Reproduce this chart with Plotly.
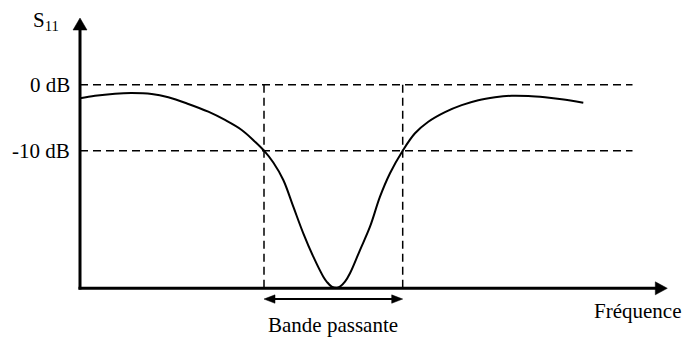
import plotly.graph_objects as go

# ---- data (arbitrary frequency units, S11 in dB) ----
freq = [0.0, 0.15, 0.35, 0.517, 0.717, 0.883, 1.083, 1.283, 1.45, 1.617, 1.75, 1.84,
        1.933, 2.033, 2.133, 2.233, 2.333, 2.433, 2.47, 2.517, 2.567, 2.6, 2.65, 2.7, 2.8,
        2.9, 3.0, 3.1, 3.227, 3.35, 3.483, 3.65, 3.817, 3.983, 4.15, 4.317, 4.483, 4.65,
        4.817, 5.033]
s11_db = [-2.06, -1.67, -1.36, -1.26, -1.41, -1.91, -2.92, -4.09, -5.35, -6.86, -8.64,
          -10.0, -11.8, -14.44, -18.48, -22.52, -26.06, -29.09, -29.9, -30.6, -30.78,
          -30.6, -29.85, -28.58, -25.05, -21.52, -16.97, -13.42, -10.0, -7.36, -5.61,
          -4.15, -3.1, -2.35, -1.91, -1.67, -1.71, -1.91, -2.21, -2.73]
ref_levels_db = [0, -10]
ref_labels = ["0 dB", "-10 dB"]
band_edges = [1.84, 3.227]
band_label = "Bande passante"
x_label = "Fréquence"
y_label = "S<sub>11</sub>"

# axis geometry (data units)
x_min, x_tip, ref_end = 0.0, 5.873, 5.525
y_base, y_tip = -30.85, 10.1
band_arrow_y = -32.48

FONT = dict(family="Liberation Serif, Times New Roman, serif", size=21, color="black")
DASH = "8px,5px"

fig = go.Figure()

for lv in ref_levels_db:
    fig.add_trace(go.Scatter(x=[x_min, ref_end], y=[lv, lv], mode="lines",
                             line=dict(color="black", width=1.5, dash=DASH),
                             hoverinfo="skip", showlegend=False))
for be in band_edges:
    fig.add_trace(go.Scatter(x=[be, be], y=[ref_levels_db[0], y_base], mode="lines",
                             line=dict(color="black", width=1.5, dash=DASH),
                             hoverinfo="skip", showlegend=False))
fig.add_trace(go.Scatter(x=freq, y=s11_db, mode="lines",
                         line=dict(color="black", width=2, shape="spline", smoothing=1.0),
                         hoverinfo="skip", showlegend=False))

# axes lines
fig.add_trace(go.Scatter(x=[x_min - 0.015, x_tip - 0.08], y=[y_base, y_base], mode="lines",
                         line=dict(color="black", width=3), hoverinfo="skip", showlegend=False))
fig.add_trace(go.Scatter(x=[x_min, x_min], y=[y_base - 0.2, y_tip - 1.2], mode="lines",
                         line=dict(color="black", width=3), hoverinfo="skip", showlegend=False))
# band double-arrow line
fig.add_trace(go.Scatter(x=[band_edges[0] + 0.05, band_edges[1] - 0.05],
                         y=[band_arrow_y, band_arrow_y], mode="lines",
                         line=dict(color="black", width=2), hoverinfo="skip", showlegend=False))

# arrow heads (pixel-sized paths anchored at data points)
def head(xa, ya, path):
    fig.add_shape(type="path", xref="x", yref="y", xsizemode="pixel", ysizemode="pixel",
                  xanchor=xa, yanchor=ya, path=path, fillcolor="black",
                  line=dict(color="black", width=0.5), layer="above")

head(x_tip, y_base, "M0,0 L-12,6.5 L-12,-6.5 Z")
head(x_min, y_tip, "M0,0 L-7,-12 L7,-12 Z")
head(band_edges[1], band_arrow_y, "M0,0 L-11,4.2 L-11,-4.2 Z")
head(band_edges[0], band_arrow_y, "M0,0 L11,4.2 L11,-4.2 Z")

# texts
for lv, lab in zip(ref_levels_db, ref_labels):
    fig.add_annotation(x=x_min - 0.08, y=lv, xref="x", yref="y", text=lab,
                       showarrow=False, xanchor="right", yanchor="middle", font=FONT)
fig.add_annotation(x=-0.19, y=9.65, xref="x", yref="y", text=y_label,
                   showarrow=False, xanchor="right", yanchor="middle", font=FONT)
fig.add_annotation(x=5.57, y=-34.3, xref="x", yref="y", text=x_label,
                   showarrow=False, xanchor="center", yanchor="middle", font=FONT)
fig.add_annotation(x=(band_edges[0] + band_edges[1]) / 2, y=-36.4, xref="x", yref="y",
                   text=band_label, showarrow=False, xanchor="center",
                   yanchor="middle", font=FONT)

fig.update_layout(
    width=683, height=338,
    margin=dict(l=0, r=0, t=0, b=0),
    paper_bgcolor="white", plot_bgcolor="white",
    xaxis=dict(range=[-0.8, 6.03], visible=False, fixedrange=True),
    yaxis=dict(range=[-38.38, 12.83], visible=False, fixedrange=True),
)

fig.write_html("out.html", config={"displayModeBar": False},
               post_script="document.body.style.margin='0';")
